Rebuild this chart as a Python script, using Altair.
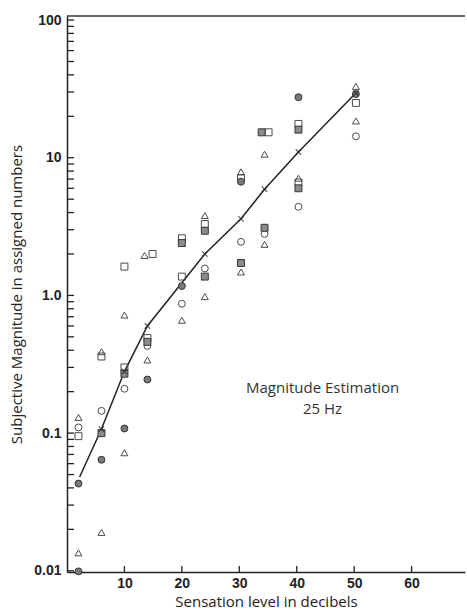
import altair as alt
import pandas as pd

# Individual estimates, one list pair per observer symbol (dB SL, assigned number)
tri_db = [2, 2, 6, 6, 10, 10, 13.5, 14, 20, 24, 24, 30.3, 30.3, 34.4, 34.4, 40.3, 50.3, 50.3]
tri_val = [0.13, 0.0135, 0.39, 0.019, 0.72, 0.072, 1.95, 0.34, 0.66, 3.8, 0.98, 7.9, 1.48, 10.6, 2.35, 7.1, 33, 18.5]

sq_db = [2, 6, 10, 10, 14.9, 14, 20, 20, 24, 30.3, 35.1, 40.3, 40.3, 50.3]
sq_val = [0.095, 0.36, 0.3, 1.62, 2.0, 0.49, 2.6, 1.37, 3.3, 7.1, 15.3, 17.6, 6.6, 25]

circ_db = [2, 6, 10, 14, 20, 24, 30.3, 34.4, 40.3, 50.3]
circ_val = [0.11, 0.145, 0.21, 0.43, 0.87, 1.57, 2.45, 2.8, 4.4, 14.3]

fcirc_db = [2, 2, 6, 10, 14, 20, 30.3, 40.3, 50.3]
fcirc_val = [0.043, 0.0099, 0.064, 0.108, 0.245, 1.17, 6.7, 27.5, 29]

fsq_db = [6, 10, 14, 20, 24, 24, 30.3, 33.9, 34.4, 40.3, 40.3]
fsq_val = [0.1, 0.27, 0.46, 2.4, 2.95, 1.37, 1.72, 15.3, 3.1, 6.0, 16.0]

# Geometric means (x symbols) joined by the fitted line
mean_db = [2.2, 6, 10, 14, 24, 30.3, 34.4, 40.3, 50.3]
mean_val = [0.048, 0.107, 0.28, 0.6, 2.0, 3.6, 5.9, 11, 29.5]
mean_marked = [False, True, True, True, True, True, True, True, True]

# Axis ticks
x_ticks = [10, 20, 30, 40, 50, 60]
y_major = [0.01, 0.1, 1, 10, 100]
y_ticks = [round(k * d, 4) for d in [0.01, 0.1, 1, 10] for k in range(1, 10)] + [100]

note_lines = ["Magnitude Estimation", "25 Hz"]
note_db = [44.5, 44.5]
note_val = [0.212, 0.15]

W, H = 398, 556
INK = "#222222"
SYM = "#4a4a4a"

xscale = alt.Scale(domain=[0, 69.3], nice=False, zero=False)
yscale = alt.Scale(type="log", domain=[0.0098, 107], nice=False)

xaxis = alt.Axis(
    values=x_ticks, ticks=False, tickSize=0, grid=False,
    labelFont="Liberation Sans", labelFontWeight="bold", labelFontSize=14,
    labelColor=INK, labelPadding=4,
    domainColor=INK, domainWidth=1.5,
    title="Sensation level in decibels", titleFont="Open Sans",
    titleFontSize=15, titleFontWeight="normal", titleColor=INK, titlePadding=4,
)
yaxis = alt.Axis(
    values=y_major, ticks=False, tickSize=0, grid=False,
    labelExpr="datum.value >= 100 ? '100' : datum.value >= 10 ? '10' : "
              "datum.value >= 1 ? '1.0' : datum.value >= 0.1 ? '0.1' : '0.01'",
    labelFont="Liberation Sans", labelFontWeight="bold", labelFontSize=14,
    labelColor=INK, labelPadding=6,
    domainColor=INK, domainWidth=1.5,
    title="Subjective Magnitude in assigned numbers", titleFont="Open Sans",
    titleFontSize=15, titleFontWeight="normal", titleColor=INK, titlePadding=9,
)


def frame(db, val):
    return pd.DataFrame({"db": db, "val": val})


def X():
    return alt.X("db:Q", scale=xscale, axis=xaxis)


def Y():
    return alt.Y("val:Q", scale=yscale, axis=yaxis)


# Inward-pointing tick marks on both axes
ytick_layer = alt.Chart(pd.DataFrame({"val": y_ticks})).mark_rule(
    color=INK, strokeWidth=1.3
).encode(y=Y(), x=alt.value(0), x2=alt.value(7))

xtick_layer = alt.Chart(pd.DataFrame({"db": x_ticks})).mark_rule(
    color=INK, strokeWidth=1.3
).encode(x=X(), y=alt.value(H), y2=alt.value(H - 6))

top_line = alt.Chart(pd.DataFrame({"db": [0]})).mark_rule(
    color="#333333", strokeWidth=1.5
).encode(x=alt.value(0), x2=alt.value(W), y=alt.value(0))

line_df = pd.DataFrame({"db": mean_db, "val": mean_val, "marked": mean_marked})
fit_line = alt.Chart(line_df).mark_line(color=INK, strokeWidth=1.5).encode(
    x=X(), y=Y()
)
x_marks = alt.Chart(line_df).transform_filter("datum.marked").mark_point(
    shape="M-1,-1L1,1M1,-1L-1,1", filled=False, stroke=INK, strokeWidth=1.2, size=30
).encode(x=X(), y=Y())

sym_size = 48
tri_layer = alt.Chart(frame(tri_db, tri_val)).mark_point(
    shape="triangle-up", filled=False, stroke=SYM, strokeWidth=1, size=sym_size, opacity=1
).encode(x=X(), y=Y())
sq_layer = alt.Chart(frame(sq_db, sq_val)).mark_point(
    shape="square", filled=False, stroke=SYM, strokeWidth=1, size=sym_size, opacity=1
).encode(x=X(), y=Y())
circ_layer = alt.Chart(frame(circ_db, circ_val)).mark_point(
    shape="circle", filled=False, stroke=SYM, strokeWidth=1, size=sym_size, opacity=1
).encode(x=X(), y=Y())
fcirc_layer = alt.Chart(frame(fcirc_db, fcirc_val)).mark_point(
    shape="circle", filled=True, fill="#7a7a7a", stroke="#333333", strokeWidth=1,
    size=sym_size, opacity=1
).encode(x=X(), y=Y())
fsq_layer = alt.Chart(frame(fsq_db, fsq_val)).mark_point(
    shape="square", filled=True, fill="#8c8c8c", stroke="#333333", strokeWidth=1,
    size=sym_size, opacity=1
).encode(x=X(), y=Y())

note_layer = alt.Chart(
    pd.DataFrame({"db": note_db, "val": note_val, "txt": note_lines})
).mark_text(
    font="Open Sans", fontSize=15, color="#333333", align="center", baseline="middle"
).encode(x=X(), y=Y(), text="txt:N")

chart = alt.layer(
    fit_line, ytick_layer, xtick_layer, top_line,
    tri_layer, sq_layer, circ_layer, fcirc_layer, fsq_layer, x_marks, note_layer,
).properties(
    width=W, height=H,
    autosize=alt.AutoSizeParams(type="none"),
    padding={"left": 67, "top": 16, "right": 2, "bottom": 38},
    background="white",
).configure_view(stroke=None)

chart.save("out.html", embed_options={"renderer": "svg", "actions": False})
